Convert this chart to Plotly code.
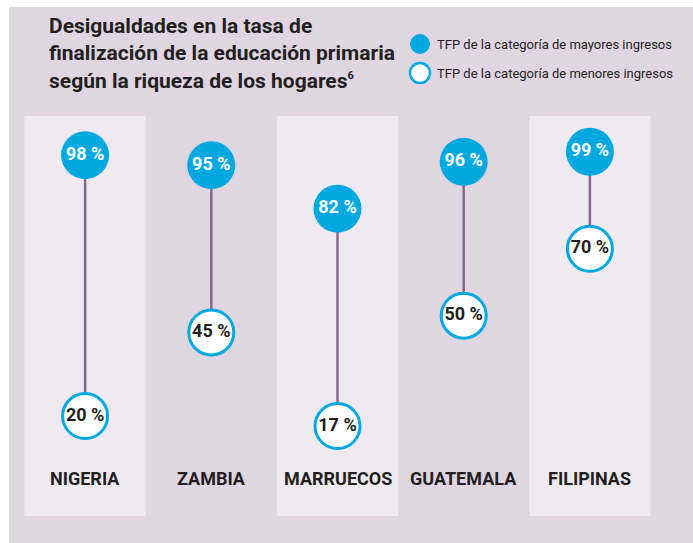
import plotly.graph_objects as go

countries = ["NIGERIA", "ZAMBIA", "MARRUECOS", "GUATEMALA", "FILIPINAS"]
high_income = [98, 95, 82, 96, 99]
low_income = [20, 45, 17, 50, 70]
legend_high = "TFP de la categoría de mayores ingresos"
legend_low = "TFP de la categoría de menores ingresos"
title_text = ("Desigualdades en la tasa de<br>finalización de la educación primaria"
              "<br>según la riqueza de los hogares<sup><span style='font-size:11px'>6</span></sup>")

FONT = "Roboto, Liberation Sans, sans-serif"
BG = "#e0d6e2"
STRIPE = "#efeaf1"
BLUE = "#00a8e0"
LINE = "#86698c"
DARK = "#231f20"

# figure geometry
W, H = 693, 543
ML, MR, MT, MB = 22, 40, 116, 27
PW, PH = W - ML - MR, H - MT - MB


def px(x):
    return (x - ML) / PW


def py(y):
    return (H - MB - y) / PH


fig = go.Figure()

# outer panel (drawn first)
fig.add_shape(type="rect", xref="paper", yref="paper", x0=px(9), x1=1.2, y0=-0.2, y1=py(7),
              fillcolor=BG, line=dict(width=0), layer="below")

# alternating stripes
for i, c in enumerate(countries):
    if i % 2 == 0:
        fig.add_shape(type="rect", xref="x", yref="paper", x0=i - 0.48, x1=i + 0.48,
                      y0=0, y1=1, fillcolor=STRIPE, line=dict(width=0), layer="below")
    fig.add_annotation(x=c, y=py(491), xref="x", yref="paper", text=f"<b>{c}</b>",
                       showarrow=False, font=dict(family=FONT, size=18, color=DARK))

# connecting lines
lx, ly = [], []
for c, h, l in zip(countries, high_income, low_income):
    lx += [c, c, None]
    ly += [h, l, None]
fig.add_trace(go.Scatter(x=lx, y=ly, mode="lines", line=dict(color=LINE, width=2.5),
                         showlegend=False, hoverinfo="skip"))

fig.add_trace(go.Scatter(
    x=countries, y=high_income, mode="markers+text", name=legend_high,
    marker=dict(size=48, color=BLUE, line=dict(width=0)),
    text=[f"{v} %" for v in high_income], textposition="middle center",
    textfont=dict(family=FONT, size=18, color="white", weight="bold")))

fig.add_trace(go.Scatter(
    x=countries, y=low_income, mode="markers+text", name=legend_low,
    marker=dict(size=45, color="white", line=dict(width=3, color=BLUE)),
    text=[f"{v} %" for v in low_income], textposition="middle center",
    textfont=dict(family=FONT, size=18, color=DARK, weight="bold")))

# manual legend
for yy, fill, name in [(44, BLUE, legend_high), (73, "white", legend_low)]:
    fig.add_shape(type="circle", xref="paper", yref="paper", xsizemode="pixel",
                  ysizemode="pixel", xanchor=px(420), yanchor=py(yy),
                  x0=-10, x1=10, y0=-10, y1=10, fillcolor=fill,
                  line=dict(color=BLUE, width=2.5 if fill == "white" else 0))
    fig.add_annotation(x=px(435), y=py(yy), xref="paper", yref="paper", text=name,
                       showarrow=False, xanchor="left", yanchor="middle",
                       font=dict(family=FONT, size=13, color=DARK))

# title
fig.add_annotation(x=px(47), y=py(12), xref="paper", yref="paper",
                   text=f"<b>{title_text}</b>", showarrow=False, xanchor="left",
                   yanchor="top", align="left",
                   font=dict(family=FONT, size=21, color=DARK))

fig.update_layout(
    width=W, height=H,
    paper_bgcolor="white", plot_bgcolor="rgba(0,0,0,0)",
    margin=dict(l=ML, r=MR, t=MT, b=MB),
    font=dict(family=FONT, color=DARK),
    xaxis=dict(range=[-0.5, 4.5], showgrid=False, zeroline=False, showticklabels=False,
               showline=False, ticks="", fixedrange=True),
    yaxis=dict(range=[-9.87, 109.7], showgrid=False, zeroline=False, showticklabels=False,
               showline=False, ticks="", fixedrange=True),
    showlegend=False,
)

fig.write_html("out.html")
